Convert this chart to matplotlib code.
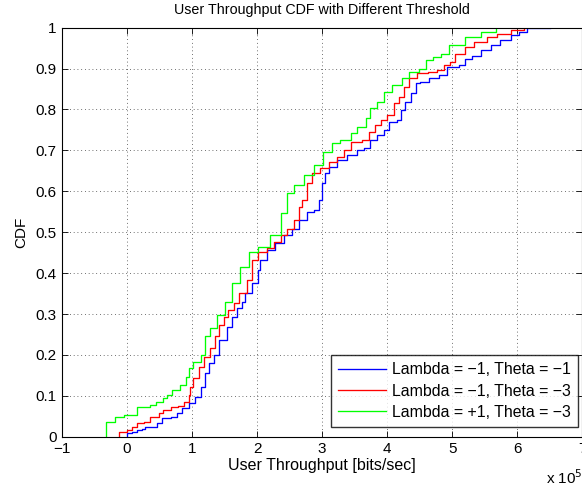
import matplotlib
matplotlib.use("Agg")
import matplotlib.pyplot as plt
from matplotlib.ticker import FuncFormatter

plt.rcParams['font.family'] = ['Liberation Sans', 'DejaVu Sans']

# Throughput (x 1e5 bits/sec) at which each CDF steps up, and CDF level reached
green_x = [-0.33, -0.18, -0.05, 0.15, 0.36, 0.44, 0.56, 0.62, 0.69, 0.82, 0.90, 0.95, 1.02, 1.13, 1.20, 1.28,
           1.38, 1.51, 1.62, 1.74, 1.87, 2.02, 2.20, 2.36, 2.46, 2.56, 2.72, 2.87, 3.02, 3.15, 3.28, 3.44,
           3.54, 3.67, 3.74, 3.85, 3.95, 4.08, 4.23, 4.33, 4.49, 4.59, 4.70, 4.82, 4.95, 5.20, 5.44, 5.67]
green_y = [0.035, 0.049, 0.053, 0.073, 0.077, 0.086, 0.094, 0.102, 0.114, 0.126, 0.147, 0.167, 0.183, 0.2, 0.245, 0.265,
           0.298, 0.33, 0.375, 0.416, 0.452, 0.465, 0.493, 0.546, 0.595, 0.615, 0.64, 0.664, 0.697, 0.717, 0.725, 0.742,
           0.758, 0.778, 0.803, 0.819, 0.844, 0.86, 0.876, 0.892, 0.9, 0.921, 0.929, 0.936, 0.957, 0.977, 0.989, 1.0]

red_x = [-0.13, 0.0, 0.08, 0.15, 0.26, 0.36, 0.49, 0.56, 0.67, 0.79, 0.87, 0.95, 0.97, 1.02, 1.10, 1.18, 1.28,
         1.36, 1.41, 1.49, 1.56, 1.64, 1.72, 1.85, 1.92, 2.02, 2.15, 2.26, 2.36, 2.46, 2.56, 2.64, 2.69, 2.77,
         2.85, 2.97, 3.10, 3.23, 3.33, 3.44, 3.62, 3.72, 3.82, 3.90, 4.0, 4.10, 4.18, 4.26, 4.33, 4.46, 4.62,
         4.77, 4.87, 4.97, 5.05, 5.20, 5.33, 5.54, 5.69, 5.90, 6.10]
red_y = [0.012, 0.016, 0.024, 0.033, 0.037, 0.049, 0.057, 0.065, 0.073, 0.075, 0.086, 0.102, 0.122, 0.143, 0.171, 0.196, 0.216,
         0.245, 0.273, 0.293, 0.31, 0.326, 0.351, 0.383, 0.432, 0.452, 0.461, 0.477, 0.493, 0.509, 0.53, 0.562, 0.579, 0.62,
         0.644, 0.656, 0.672, 0.685, 0.701, 0.721, 0.725, 0.746, 0.762, 0.774, 0.786, 0.815, 0.831, 0.856, 0.876, 0.889, 0.892,
         0.897, 0.909, 0.917, 0.936, 0.953, 0.965, 0.977, 0.985, 0.994, 1.0]

blue_x = [0.0, 0.08, 0.15, 0.23, 0.28, 0.46, 0.54, 0.67, 0.77, 0.85, 0.95, 1.05, 1.13, 1.20, 1.26, 1.33, 1.41,
          1.54, 1.62, 1.69, 1.77, 1.82, 1.92, 2.02, 2.05, 2.15, 2.28, 2.41, 2.54, 2.64, 2.77, 2.87, 2.95, 3.0,
          3.05, 3.10, 3.23, 3.38, 3.54, 3.64, 3.74, 3.85, 3.95, 4.03, 4.15, 4.21, 4.28, 4.36, 4.44, 4.51, 4.64,
          4.79, 4.92, 5.10, 5.20, 5.31, 5.44, 5.59, 5.74, 5.90, 6.02, 6.15, 6.51]
blue_y = [0.008, 0.012, 0.016, 0.02, 0.024, 0.033, 0.045, 0.049, 0.057, 0.069, 0.082, 0.098, 0.122, 0.155, 0.179, 0.2, 0.236,
          0.269, 0.293, 0.314, 0.33, 0.351, 0.375, 0.408, 0.432, 0.456, 0.473, 0.493, 0.509, 0.53, 0.55, 0.554, 0.579, 0.62,
          0.644, 0.66, 0.677, 0.689, 0.701, 0.705, 0.725, 0.738, 0.75, 0.77, 0.774, 0.799, 0.819, 0.84, 0.864, 0.868, 0.876,
          0.884, 0.904, 0.908, 0.924, 0.932, 0.945, 0.957, 0.969, 0.981, 0.989, 0.999, 1.0]

labels = ['Lambda = \u22121, Theta = \u22121', 'Lambda = \u22121, Theta = \u22123', 'Lambda = +1, Theta = \u22123']
colors = ['#0000ff', '#ff0000', '#00ff00']
x_ticks = [-1, 0, 1, 2, 3, 4, 5, 6, 7]
y_ticks = [0, 0.1, 0.2, 0.3, 0.4, 0.5, 0.6, 0.7, 0.8, 0.9, 1.0]

W, H = 582, 488
fig = plt.figure(figsize=(W/100, H/100), dpi=100)
ax = fig.add_axes([62/W, (H-436.7)/H, (582.3-62)/W, (436.7-27.7)/H])

for xs, ys, c, lab in zip([blue_x, red_x, green_x], [blue_y, red_y, green_y], colors, labels):
    ax.plot([xs[0]] + xs, [0] + ys, drawstyle='steps-post', color=c, lw=0.95, label=lab)

ax.set_xlim(-1, 7)
ax.set_ylim(0, 1)
ax.set_xticks(x_ticks)
ax.set_yticks(y_ticks)
ax.yaxis.set_major_formatter(FuncFormatter(lambda v, p: '%g' % v))
ax.xaxis.set_major_formatter(FuncFormatter(lambda v, p: ('\u2212%g' % -v) if v < 0 else '%g' % v))
ax.tick_params(direction='in', top=True, right=True, length=4, width=0.6, labelsize=11, pad=4)
ax.grid(True, color='black', linestyle=(0, (1, 3.5)), linewidth=0.6, alpha=0.75)
for s in ax.spines.values():
    s.set_linewidth(0.8)

ax.set_title('User Throughput CDF with Different Threshold', fontsize=10.3, pad=10)
ax.set_xlabel('User Throughput [bits/sec]', fontsize=11.5, labelpad=1)
ax.set_ylabel('CDF', fontsize=11, labelpad=5)
fig.text(546/W, (H-484)/H, r'x 10$^5$', fontsize=11, ha='left', va='baseline')

leg = ax.legend(loc='lower right', fontsize=11.4, frameon=True, fancybox=False, edgecolor='black',
                bbox_to_anchor=(578.3/W, (H-427)/H), bbox_transform=fig.transFigure, borderaxespad=0,
                handlelength=3.0, handletextpad=0.4, labelspacing=0.4, borderpad=0.45)
leg.get_frame().set_linewidth(1.0)

fig.savefig('out.png', dpi=100)
